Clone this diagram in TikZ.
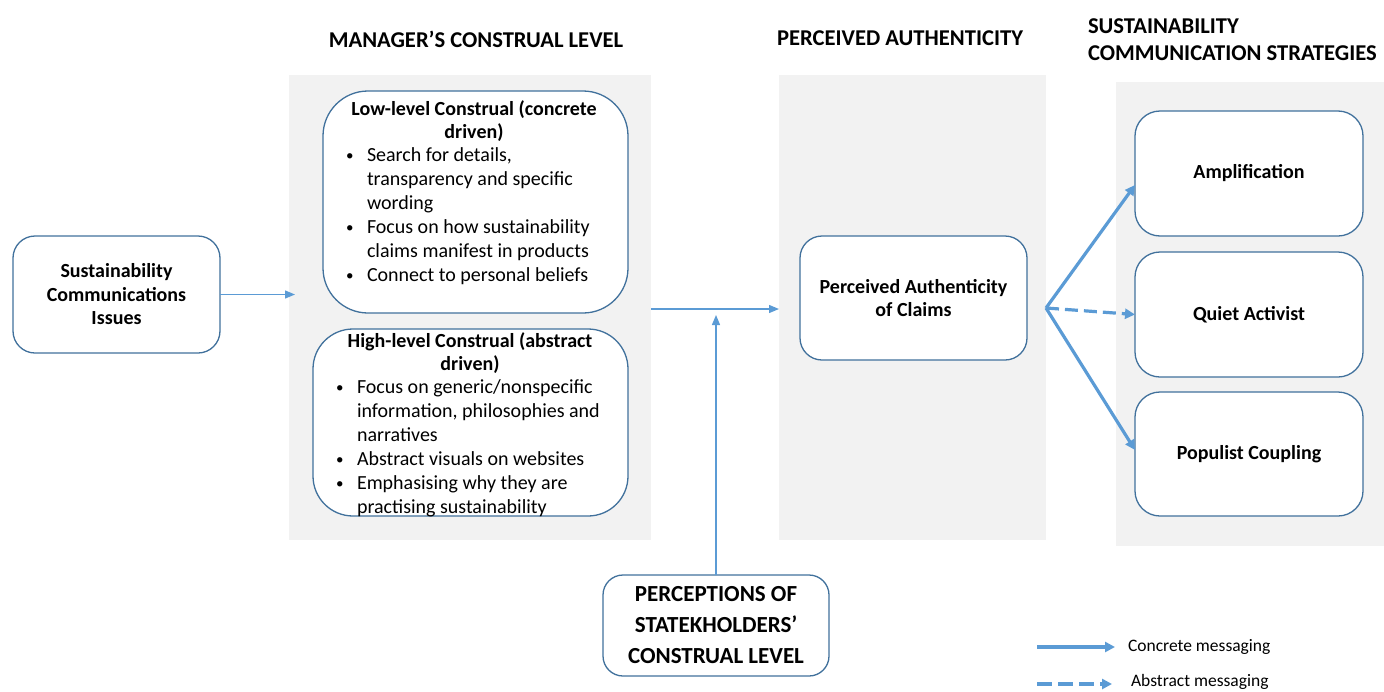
\documentclass[tikz,border=0pt]{standalone}
\usepackage{fontspec}
\setmainfont{Carlito}
\usetikzlibrary{arrows.meta}
\definecolor{arr}{HTML}{5B9BD5}
\definecolor{bord}{HTML}{41719C}
\definecolor{pan}{HTML}{F2F2F2}
\newcommand\ftxt{\fontsize{20}{24}\selectfont}
\newcommand\fbld{\fontsize{20}{23.5}\selectfont\bfseries}
\newcommand\fhead{\fontsize{22.6}{27}\selectfont\bfseries}
\newcommand\fcap{\fontsize{23}{31}\selectfont\bfseries}
\newcommand\fleg{\fontsize{17.5}{21}\selectfont}
\newcommand\bul{\raisebox{1pt}{\fontsize{15}{15}\selectfont\textbullet}}
\begin{document}
\begin{tikzpicture}[x=1pt,y=-1pt,
  panel/.style={fill=pan, draw=none, inner sep=0, outer sep=0},
  rbox/.style={draw=bord, line width=1.3pt, fill=white, rounded corners=#1, inner sep=0, outer sep=0},
  rbox/.default=22pt,
  thinarrow/.style={draw=arr, line width=1.3pt, -{Triangle[length=10pt,width=8pt]}},
  thickarrow/.style={draw=arr, line width=3.2pt, -{Triangle[length=10pt,width=10pt]}},
  dasharrow/.style={thickarrow, dash pattern=on 13pt off 6pt},
  txt/.style={inner sep=0, outer sep=0}]
\useasboundingbox (0,0) rectangle (1384,691);
% grey panels
\node[panel, minimum width=362pt, minimum height=465pt] (panel1) at (470,307.5) {};
\node[panel, minimum width=267pt, minimum height=465pt] (panel2) at (912.5,307.5) {};
\node[panel, minimum width=268pt, minimum height=464pt] (panel3) at (1250,314) {};
% headings
\node[txt, anchor=base, font=\fhead] (h1) at (476,47) {MANAGER’S CONSTRUAL LEVEL};
\node[txt, anchor=base, font=\fhead] (h2) at (900,45) {PERCEIVED AUTHENTICITY};
\node[txt, anchor=base west, font=\fhead] (h3) at (1088,33) {\begin{tabular}[t]{@{}l@{}}SUSTAINABILITY\\COMMUNICATION STRATEGIES\end{tabular}};
% boxes
\node[rbox, minimum width=207pt, minimum height=117pt, align=center, font=\fbld] (src) at (116.5,294.5) {Sustainability\\Communications\\Issues};
\node[rbox=45pt, minimum width=305pt, minimum height=222pt] (low) at (475.5,202) {};
\node[rbox=40pt, minimum width=315pt, minimum height=187pt] (high) at (470.5,422.5) {};
\node[rbox, minimum width=227pt, minimum height=124pt, align=center, font=\fbld] (auth) at (913.5,298) {Perceived Authenticity\\of Claims};
\node[rbox=20pt, minimum width=226pt, minimum height=101pt, align=center, font=\fcap, text depth=2pt] (perc) at (716,625.5) {PERCEPTIONS OF\\STATEKHOLDERS’\\CONSTRUAL LEVEL};
\node[rbox=25pt, minimum width=228pt, minimum height=125pt, font=\fbld] (amp) at (1249,173.5) {Amplification};
\node[rbox=25pt, minimum width=228pt, minimum height=125pt, font=\fbld] (quiet) at (1249,314.5) {Quiet Activist};
\node[rbox=25pt, minimum width=228pt, minimum height=124pt, font=\fbld] (pop) at (1249,454) {Populist Coupling};
% low-level text
\node[txt, anchor=base, font=\fbld] (lowtitle) at (474,115) {\begin{tabular}[t]{@{}c@{}}Low-level Construal (concrete\\driven)\end{tabular}};
\node[txt, anchor=base west, font=\ftxt] (lowlist) at (346,161) {\begin{tabular}[t]{@{}p{21pt}@{}l@{}}
\bul & Search for details,\\
 & transparency and specific\\
 & wording\\
\bul & Focus on how sustainability\\
 & claims manifest in products\\
\bul & Connect to personal beliefs
\end{tabular}};
% high-level text
\node[txt, anchor=base, font=\fbld] (hightitle) at (470,347) {\begin{tabular}[t]{@{}c@{}}High-level Construal (abstract\\driven)\end{tabular}};
\node[txt, anchor=base west, font=\ftxt] (highlist) at (336,393) {\begin{tabular}[t]{@{}p{21pt}@{}l@{}}
\bul & Focus on generic/nonspecific\\
 & information, philosophies and\\
 & narratives\\
\bul & Abstract visuals on websites\\
\bul & Emphasising why they are\\
 & practising sustainability
\end{tabular}};
% connectors
\coordinate (e1) at (295,294.5);
\draw[thinarrow] (src.east) -- (e1);
\coordinate (m1) at (651,309);
\coordinate (m2) at (779,309);
\draw[thinarrow] (m1) -- (m2);
\coordinate (v2) at (716,315);
\draw[thinarrow] (perc.north) -- (v2);
\coordinate (fan) at (1046,308);
\coordinate (ampin) at (1135,185);
\coordinate (quietin) at (1135,314.5);
\coordinate (popin) at (1135,450);
\draw[thickarrow] (fan) -- (ampin);
\draw[dasharrow] (fan) -- (quietin);
\draw[thickarrow] (fan) -- (popin);
% legend
\coordinate (l1a) at (1037,647);
\coordinate (l1b) at (1115,647);
\coordinate (l2a) at (1037,684);
\coordinate (l2b) at (1112,684);
\draw[thickarrow] (l1a) -- (l1b);
\draw[dasharrow, dash pattern=on 15pt off 6pt] (l2a) -- (l2b);
\node[txt, anchor=west, font=\fleg] (leg1) at (1128,647) {Concrete messaging};
\node[txt, anchor=west, font=\fleg] (leg2) at (1131,682) {Abstract messaging};
\end{tikzpicture}
\end{document}
